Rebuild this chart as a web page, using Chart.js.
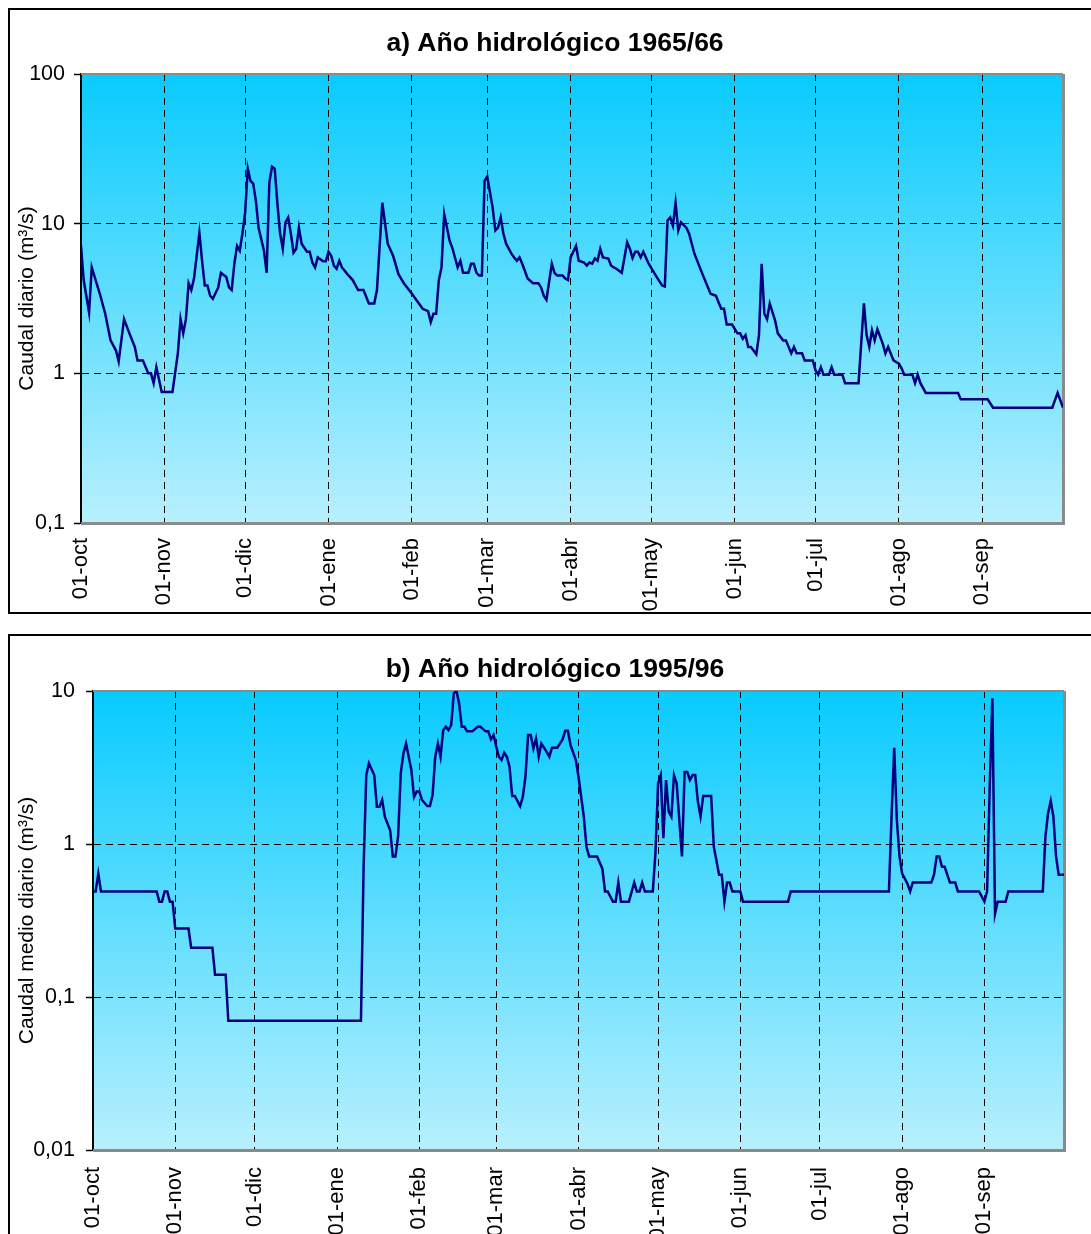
<!DOCTYPE html>
<html>
<head>
<meta charset="utf-8">
<script src="https://cdn.jsdelivr.net/npm/chart.js@4.4.1/dist/chart.umd.min.js"></script>
<style>
  body { margin: 0; background: #fff; width: 1091px; height: 1234px; overflow: hidden; position: relative; }
  .box { position: absolute; border: 2px solid #000; }
  #boxA { left: 8px; top: 8px; width: 1100px; height: 602px; }
  #boxB { left: 8px; top: 634px; width: 1100px; height: 700px; }
  canvas { position: absolute; left: 0; }
  #chartA { top: 0; }
  #chartB { top: 620px; }
</style>
</head>
<body>
<div class="box" id="boxA"></div>
<div class="box" id="boxB"></div>
<canvas id="chartA" width="1091" height="620"></canvas>
<canvas id="chartB" width="1091" height="614"></canvas>
<script>
// etiquetas de meses (año hidrológico oct-sep)
const monthLabels = ['01-oct', '01-nov', '01-dic', '01-ene', '01-feb', '01-mar', '01-abr', '01-may', '01-jun', '01-jul', '01-ago', '01-sep'];
const monthDaysA = [0, 31, 61, 92, 123, 151, 182, 212, 243, 273, 304, 335];   // 1965/66
const monthDaysB = [0, 31, 61, 92, 123, 152, 183, 213, 244, 274, 305, 336];   // 1995/96 (bisiesto)

const yTicksA = [0.1, 1, 10, 100];
const yLabelsA = ['0,1', '1', '10', '100'];
const yTicksB = [0.01, 0.1, 1, 10];
const yLabelsB = ['0,01', '0,1', '1', '10'];

// a) 1965/66 - día desde 01-oct y caudal (m3/s)
const daysA = [0,1,3,4,7,9,11,13,14,16,
  18,20,21,23,25,26,27,28,30,34,
  36,37,38,39,40,41,42,44,45,46,
  47,48,49,51,52,54,55,56,57,58,
  59,60,61,62,63,64,65,66,68,69,
  70,71,72,73,74,75,76,77,78,79,
  80,81,82,84,85,86,87,88,90,91,
  92,93,94,95,96,97,99,101,103,105,
  107,109,110,112,114,116,118,120,123,127,
  129,130,131,132,133,134,135,137,138,140,
  141,142,144,145,146,147,148,149,150,151,
  153,154,155,156,157,158,160,161,162,163,
  164,166,168,170,171,172,173,175,176,177,
  179,180,181,182,184,185,187,188,189,190,
  191,192,193,194,196,197,198,199,201,203,
  204,205,206,207,208,209,211,214,216,217,
  218,219,220,221,222,223,225,226,228,231,
  234,236,237,238,239,240,242,244,245,246,
  247,248,249,251,252,253,254,255,256,258,
  259,261,262,264,265,266,268,269,272,273,
  274,275,276,278,279,280,283,284,289,291,
  292,293,294,295,296,298,299,300,302,304,
  305,306,309,310,311,312,314,326,327,337,
  339,361,363,365];
const flowA = [7.1,4.2,2.55,5.1,3.4,2.5,1.66,1.42,1.2,2.3,
  1.85,1.5,1.22,1.22,1.0,1.0,0.86,1.1,0.75,0.75,
  1.36,2.3,1.85,2.3,4.0,3.6,4.3,8.7,5.65,3.86,
  3.86,3.3,3.15,3.75,4.7,4.4,3.75,3.6,5.4,7.1,
  6.6,8.6,11.8,23.3,19.3,18.5,14.2,9.4,6.6,4.7,
  18.8,24,23.3,13.6,8.6,6.8,10.2,11,8.6,6.4,
  6.8,9.4,7.35,6.5,6.5,5.5,5.1,5.95,5.6,5.6,
  6.5,6.1,5.25,5.0,5.65,5.1,4.6,4.2,3.6,3.6,
  2.93,2.93,3.6,13.8,7.35,6.1,4.6,4.0,3.4,2.7,
  2.6,2.2,2.5,2.5,4.2,5.1,11.6,7.7,6.9,5.1,
  5.65,4.7,4.7,5.4,5.4,4.7,4.5,4.5,19.3,20.6,
  12.8,9.0,9.4,11,8.6,7.35,6.3,5.95,5.65,5.95,
  5.4,4.3,4.0,4.0,3.75,3.3,3.1,5.4,4.7,4.5,
  4.5,4.3,4.2,5.95,7.1,5.65,5.5,5.25,5.5,5.4,
  5.85,5.65,6.8,5.95,5.85,5.25,5.1,5.0,4.7,7.5,
  6.8,5.9,6.5,6.5,5.95,6.5,5.4,4.4,3.86,3.8,
  10.5,11,9.7,13.8,9.0,10.2,9.4,8.6,6.3,4.6,
  3.4,3.3,2.97,2.7,2.7,2.12,2.12,1.85,1.85,1.7,
  1.8,1.5,1.5,1.34,1.8,5.4,2.5,2.3,2.93,2.25,
  1.85,1.66,1.66,1.36,1.5,1.36,1.36,1.22,1.22,1.05,
  0.98,1.1,0.98,0.98,1.1,0.98,0.98,0.86,0.86,2.93,
  1.8,1.5,1.94,1.66,1.97,1.58,1.36,1.5,1.22,1.16,
  1.08,0.98,0.98,0.86,0.98,0.86,0.74,0.74,0.67,0.67,
  0.59,0.59,0.74,0.59];

// b) 1995/96
const daysB = [0,1,2,3,24,25,26,27,28,29,
  30,31,36,37,45,46,50,51,101,102,
  103,104,106,107,108,109,110,112,113,114,
  115,116,117,118,120,121,122,123,124,126,
  127,128,129,130,131,132,133,134,135,136,
  137,138,139,140,141,143,145,146,148,149,
  150,151,152,153,154,155,156,157,158,159,
  161,162,163,164,165,166,167,168,169,171,
  172,173,175,177,178,179,180,182,183,185,
  186,187,190,192,193,194,196,197,198,199,
  202,204,205,206,207,208,211,212,213,214,
  215,216,217,218,219,220,222,223,224,225,
  226,227,228,229,230,233,234,236,237,238,
  239,240,241,244,245,262,263,300,301,302,
  303,304,305,307,308,309,316,317,318,319,
  320,321,323,325,326,334,336,337,338,339,
  340,341,344,345,358,359,360,361,362,363,
  364,366];
const flowB = [0.49,0.49,0.64,0.49,0.49,0.42,0.42,0.49,0.49,0.42,
  0.42,0.28,0.28,0.21,0.21,0.14,0.14,0.07,0.07,0.71,
  2.82,3.37,2.82,1.75,1.75,1.94,1.51,1.23,0.83,0.83,
  1.12,2.9,3.9,4.54,3.05,2.03,2.2,2.2,1.94,1.77,
  1.77,2.09,3.72,4.54,3.72,5.55,5.83,5.55,5.98,9.66,
  10,8.3,5.83,5.83,5.45,5.45,5.83,5.83,5.45,5.45,
  4.83,5.15,4.32,3.72,3.54,3.95,3.72,3.2,2.06,2.06,
  1.77,2.03,2.75,5.15,5.15,4.21,4.9,3.72,4.54,4.0,
  3.72,4.26,4.26,4.83,5.5,5.5,4.43,3.54,2.75,1.51,
  0.96,0.83,0.83,0.69,0.49,0.49,0.42,0.42,0.56,0.42,
  0.42,0.56,0.49,0.49,0.56,0.49,0.49,0.87,2.49,2.82,
  1.09,2.62,1.63,1.51,2.82,2.49,0.83,2.96,2.96,2.62,
  2.82,2.82,1.89,1.51,2.06,2.06,0.96,0.63,0.63,0.42,
  0.56,0.56,0.49,0.49,0.42,0.42,0.49,0.49,1.51,4.26,
  1.43,0.83,0.64,0.55,0.49,0.56,0.56,0.63,0.83,0.83,
  0.71,0.71,0.56,0.56,0.49,0.49,0.42,0.49,2.37,8.95,
  0.35,0.42,0.42,0.49,0.49,1.12,1.59,1.91,1.51,0.83,
  0.63,0.63];

Chart.defaults.font.family = '"Liberation Sans", Arial, sans-serif';
Chart.defaults.color = '#000';

// fondo degradado y marco gris del área de trazado
const plotFrame = {
    id: 'plotFrame',
    beforeDraw(chart) {
        const { ctx, chartArea: a } = chart;
        const g = ctx.createLinearGradient(0, a.top, 0, a.bottom);
        g.addColorStop(0, '#08cbfe');
        g.addColorStop(1, '#b8f0fd');
        ctx.save();
        ctx.fillStyle = g;
        ctx.fillRect(a.left, a.top, a.right - a.left, a.bottom - a.top);
        ctx.restore();
    },
    beforeDatasetsDraw(chart) {
        const { ctx, chartArea: a } = chart;
        ctx.save();
        ctx.strokeStyle = '#8a8a8a';
        ctx.lineWidth = 2;
        ctx.beginPath();
        ctx.moveTo(a.left, a.top);
        ctx.lineTo(a.right, a.top);
        ctx.stroke();
        ctx.lineWidth = 3;
        ctx.beginPath();
        ctx.moveTo(a.right + 0.5, a.top);
        ctx.lineTo(a.right + 0.5, a.bottom + 0.5);
        ctx.lineTo(a.left, a.bottom + 0.5);
        ctx.stroke();
        ctx.restore();
    }
};

// título centrado sobre el recuadro del gráfico (no sobre el lienzo)
const boxTitle = {
    id: 'boxTitle',
    afterDraw(chart, args, opts) {
        const ctx = chart.ctx;
        ctx.save();
        ctx.font = 'bold 26.5px "Liberation Sans", Arial, sans-serif';
        ctx.fillStyle = '#000';
        ctx.textAlign = 'center';
        ctx.textBaseline = 'middle';
        ctx.fillText(opts.text, opts.x, opts.y);
        ctx.restore();
    }
};

function drawChart(id, title, yTitle, days, flow, monthDays, xMax, yTicks, yLabels, lay) {
    const ctx = document.getElementById(id).getContext('2d');
    new Chart(ctx, {
        type: 'line',
        data: {
            datasets: [{
                data: days.map((d, i) => ({ x: d, y: flow[i] })),
                borderColor: '#000080',
                borderWidth: 2.5,
                pointRadius: 0,
                tension: 0,
                fill: false
            }]
        },
        options: {
            responsive: false,
            animation: false,
            layout: { padding: { left: 0, right: lay.right, top: lay.top, bottom: 0 } },
            plugins: {
                legend: { display: false },
                tooltip: { enabled: false },
                title: { display: false },
                boxTitle: { text: title, x: 555, y: lay.titleY }
            },
            scales: {
                x: {
                    type: 'linear',
                    min: 0,
                    max: xMax,
                    afterBuildTicks: s => { s.ticks = monthDays.map(v => ({ value: v })); },
                    afterFit: s => { s.height = lay.xHeight; },
                    ticks: {
                        autoSkip: false,
                        minRotation: 90,
                        maxRotation: 90,
                        padding: lay.xPad,
                        font: { size: 22 },
                        color: '#000',
                        callback: (v, i) => monthLabels[i]
                    },
                    grid: { color: '#000', lineWidth: 1, drawTicks: false },
                    border: { display: false, dash: [7, 5] }
                },
                y: {
                    type: 'logarithmic',
                    min: yTicks[0],
                    max: yTicks[yTicks.length - 1],
                    afterBuildTicks: s => { s.ticks = yTicks.map(v => ({ value: v })); },
                    afterFit: s => { s.width = lay.yWidth; },
                    ticks: {
                        padding: lay.yPad,
                        font: { size: 21.5 },
                        color: '#000',
                        callback: (v, i) => yLabels[i]
                    },
                    grid: {
                        color: '#000', lineWidth: 1,
                        drawTicks: true, tickLength: 7, tickColor: '#000', tickWidth: 1.5, tickBorderDash: []
                    },
                    border: { display: true, color: '#000', width: 2, dash: [7, 5] },
                    title: {
                        display: true,
                        text: yTitle,
                        color: '#000',
                        font: { size: 21 },
                        padding: { top: 15, bottom: 0 }
                    }
                }
            }
        },
        plugins: [plotFrame, boxTitle]
    });
}

drawChart('chartA', 'a) Año hidrológico 1965/66', 'Caudal diario (m³/s)',
    daysA, flowA, monthDaysA, 365, yTicksA, yLabelsA,
    { right: 28, top: 74, titleY: 44, xHeight: 97, xPad: 15, yWidth: 81, yPad: 9 });

drawChart('chartB', 'b) Año hidrológico 1995/96', 'Caudal medio diario (m³/s)',
    daysB, flowB, monthDaysB, 366, yTicksB, yLabelsB,
    { right: 27, top: 71, titleY: 50, xHeight: 84, xPad: 17, yWidth: 93, yPad: 11 });
</script>
</body>
</html>
